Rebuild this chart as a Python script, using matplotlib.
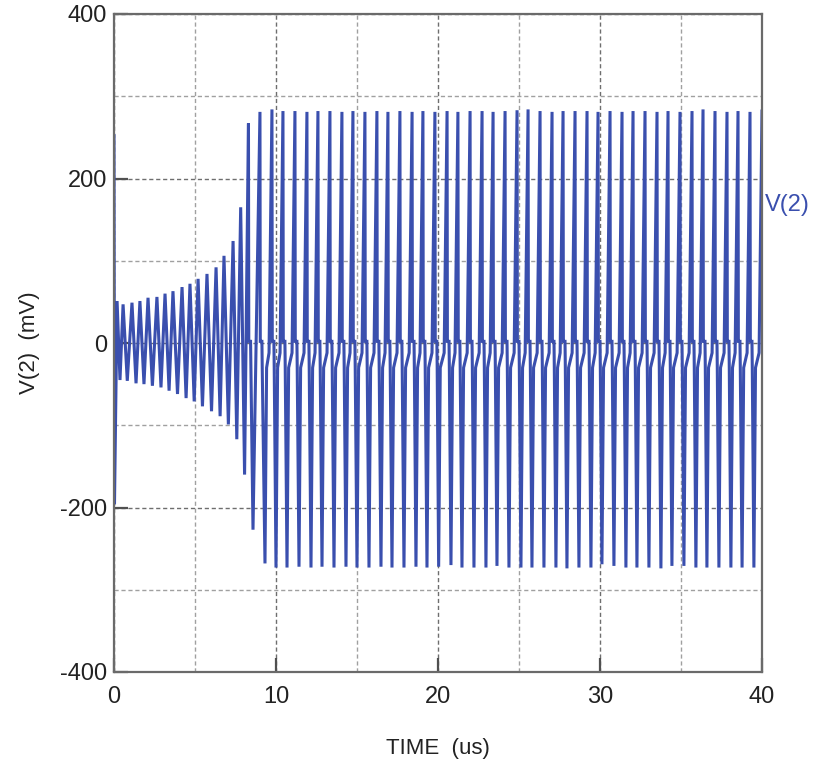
import numpy as np
import matplotlib
matplotlib.use("Agg")
import matplotlib.pyplot as plt
from matplotlib.ticker import MultipleLocator

# ---- data (time in us, voltage in mV) ----
# start-up region: growing oscillation
early_peak_t = [0.0, 0.19, 0.56, 1.11, 1.60, 2.10, 2.65, 3.15, 3.64, 4.20,
                4.69, 5.19, 5.74, 6.30, 6.79, 7.35, 7.82, 8.30]
early_peak_mv = [252, 51, 47, 49, 51, 55, 56, 60, 63, 68,
                 72, 78, 84, 92, 106, 124, 165, 267]
early_trough_t = [0.03, 0.37, 0.82, 1.36, 1.85, 2.37, 2.90, 3.40, 3.92, 4.45,
                  4.95, 5.46, 6.02, 6.55, 7.06, 7.58, 8.06, 8.58]
early_trough_mv = [-196, -45, -46, -49, -50, -52, -54, -58, -62, -67,
                   -71, -77, -83, -89, -99, -117, -160, -227]

# saturated region
sat_peak_t = [9.01, 9.75, 10.43, 11.17, 11.91, 12.59, 13.33, 14.07, 14.75, 15.49,
              16.23, 16.91, 17.65, 18.40, 19.07, 19.81, 20.56, 21.23, 21.98, 22.72,
              23.40, 24.14, 24.88, 25.56, 26.30, 27.04, 27.72, 28.46, 29.20, 29.88,
              30.62, 31.36, 32.04, 32.78, 33.52, 34.20, 34.94, 35.68, 36.36, 37.10,
              37.84, 38.52, 39.26, 40.00]
sat_peak_mv = [281, 284, 282, 282, 281, 282, 282, 281, 282, 281,
               282, 281, 282, 281, 282, 281, 282, 281, 282, 282,
               281, 282, 283, 284, 282, 281, 282, 282, 282, 281,
               282, 281, 282, 282, 281, 282, 281, 282, 284, 282,
               281, 282, 281, 282]
sat_trough_t = [9.32, 10.00, 10.68, 11.42, 12.16, 12.84, 13.58, 14.32, 15.00, 15.74,
                16.48, 17.16, 17.90, 18.64, 19.32, 20.04, 20.80, 21.48, 22.22, 22.96,
                23.64, 24.38, 25.12, 25.80, 26.54, 27.28, 27.96, 28.70, 29.44, 30.12,
                30.86, 31.60, 32.28, 33.02, 33.76, 34.44, 35.18, 35.92, 36.60, 37.34,
                38.08, 38.77, 39.50]
sat_trough_mv = [-268, -273, -273, -272, -273, -272, -273, -272, -273, -273,
                 -272, -273, -273, -272, -273, -272, -270, -273, -273, -273,
                 -271, -273, -273, -273, -273, -273, -274, -273, -273, -269,
                 -271, -273, -273, -273, -274, -271, -271, -273, -273, -273,
                 -273, -273, -273]

PLATEAU_MV = 2       # short flat step just after each saturated peak
STEP_MV = -30        # small step on the way down to the trough
REBOUND_MV = [-30, -12]   # levels the trace climbs back through after a trough

LINE = "#3a4fae"
GRID_MAJ = "#6e6e6e"
GRID_MIN = "#a0a0a0"
SPINE = "#6a6a6a"
FONT = "Liberation Sans"

# ---- build the trace from the extrema ----
t, v = [], []
for i in range(len(early_peak_t)):
    t += [early_peak_t[i]]
    v += [early_peak_mv[i]]
    if early_peak_t[i] >= 8.0:
        t += [early_peak_t[i] + 0.02, early_peak_t[i] + 0.13]
        v += [PLATEAU_MV, PLATEAU_MV]
    t += [early_trough_t[i]]
    v += [early_trough_mv[i]]
for i in range(len(sat_peak_t)):
    t += [sat_peak_t[i]]
    v += [sat_peak_mv[i]]
    if i < len(sat_trough_t):
        tp, tt = sat_peak_t[i], sat_trough_t[i]
        tn = sat_peak_t[i + 1]
        t += [tp + 0.02, tp + 0.12, tp + 0.14, tt, tt + 0.10, tn - 0.18]
        v += [PLATEAU_MV, PLATEAU_MV, STEP_MV, sat_trough_mv[i],
              REBOUND_MV[0], REBOUND_MV[1]]
t = np.array(t)
v = np.array(v)

# ---- plot ----
plt.rcParams["font.family"] = [FONT, "DejaVu Sans"]
plt.rcParams["axes.unicode_minus"] = False
fig = plt.figure(figsize=(8.16, 7.64), dpi=100)
ax = fig.add_axes([114 / 816, 92 / 764, 648 / 816, 658 / 764])

ax.plot(t, v, color=LINE, lw=2.2, solid_joinstyle="miter")

ax.set_xlim(0, 40)
ax.set_ylim(-400, 400)
ax.xaxis.set_major_locator(MultipleLocator(10))
ax.xaxis.set_minor_locator(MultipleLocator(5))
ax.yaxis.set_major_locator(MultipleLocator(200))
ax.yaxis.set_minor_locator(MultipleLocator(100))

ax.grid(which="major", color=GRID_MAJ, lw=1.0, ls=(0, (3, 2)))
ax.grid(which="minor", color=GRID_MIN, lw=1.0, ls=(0, (3, 2)))
ax.set_axisbelow(True)

ax.tick_params(which="major", direction="in", length=10, width=1.6, color="#505050",
               labelsize=17, labelcolor="#222222", top=False, right=False)
ax.tick_params(axis="x", which="major", pad=10)
ax.tick_params(axis="y", which="major", pad=5)
ax.tick_params(which="minor", length=0)
for s in ax.spines.values():
    s.set_color(SPINE)
    s.set_linewidth(1.6)

ax.set_xlabel("TIME  (us)", fontsize=16, color="#222222", labelpad=22)
ax.set_ylabel("V(2)  (mV)", fontsize=16, color="#222222", labelpad=14)

ax.text(40.2, 168, "V(2)", color=LINE, fontsize=17, ha="left", va="center",
        clip_on=False)

fig.savefig("out.png", dpi=100, facecolor="white")
